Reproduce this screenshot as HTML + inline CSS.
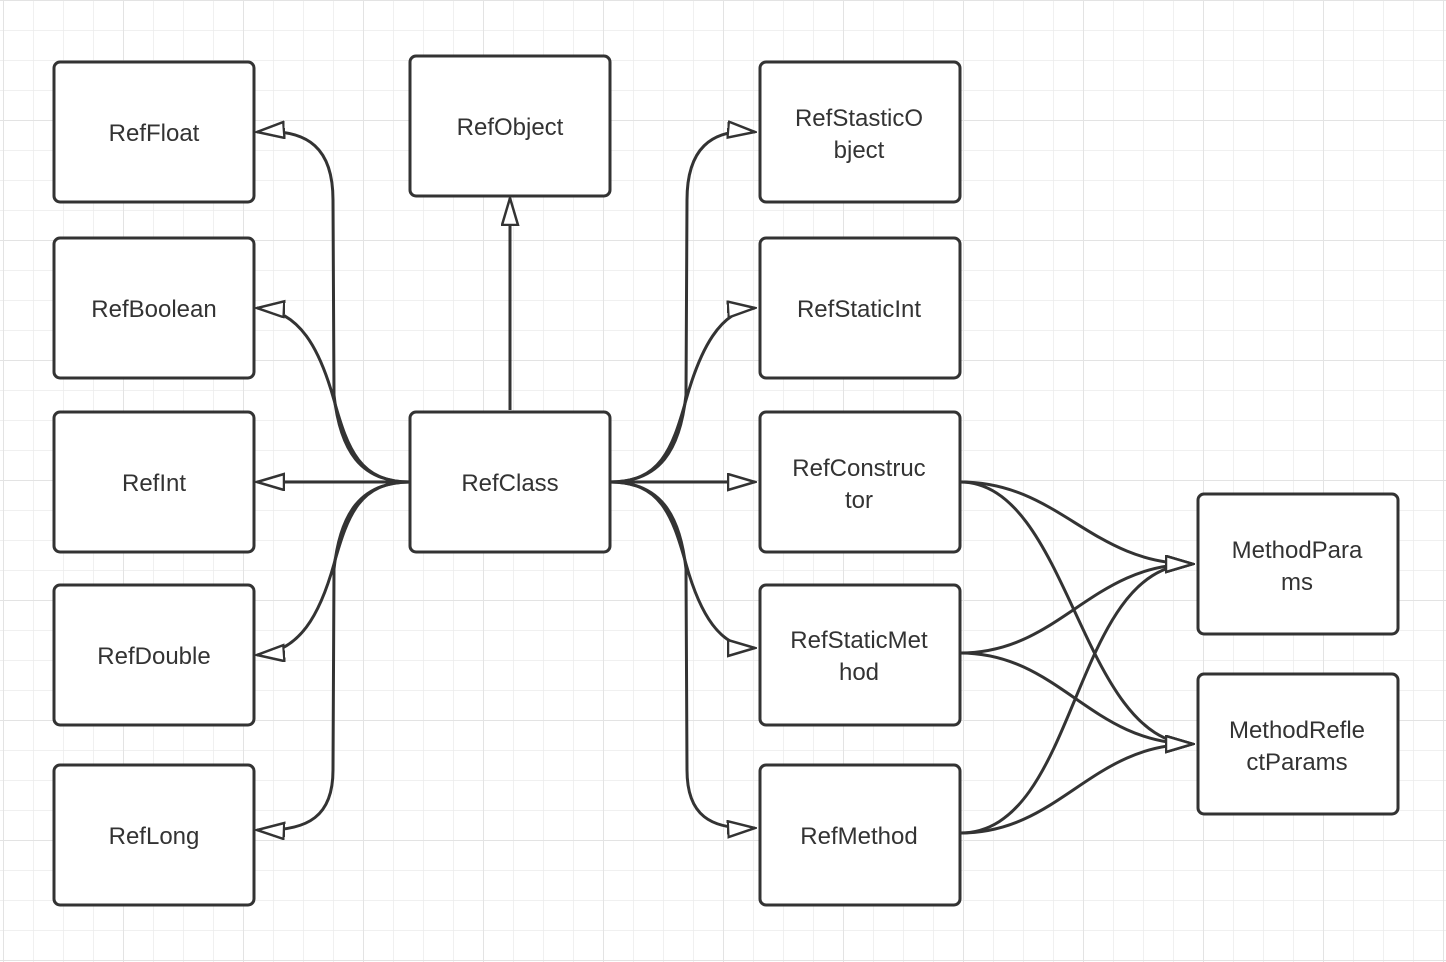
<!DOCTYPE html>
<html><head><meta charset="utf-8"><style>
html,body{margin:0;padding:0;background:#fff;}
svg{display:block;}
text{font-family:"Liberation Sans",sans-serif;font-size:24px;fill:#333;text-anchor:middle;}
</style></head><body>
<svg width="1446" height="962" viewBox="0 0 1446 962" xmlns="http://www.w3.org/2000/svg">
<defs>
<pattern id="g" x="3" y="0" width="30" height="30" patternUnits="userSpaceOnUse">
<path d="M0,0 V30 M0,0 H30" stroke="#ebebeb" stroke-width="1.5" fill="none"/>
</pattern>
<pattern id="G" x="3" y="0" width="120" height="120" patternUnits="userSpaceOnUse">
<path d="M0,0 V120 M0,0 H120" stroke="#e3e3e3" stroke-width="2" fill="none"/>
</pattern>
<marker id="a" markerWidth="30" markerHeight="20" refX="28" refY="9" orient="auto" markerUnits="userSpaceOnUse">
<path d="M1,1 L28,9 L1,17 Z" fill="#fff" stroke="#333" stroke-width="2.5"/>
</marker>
</defs>
<rect width="1446" height="962" fill="#fff"/>
<rect width="1446" height="962" fill="url(#g)"/>
<rect width="1446" height="962" fill="url(#G)"/>
<g fill="none" stroke="#333" stroke-width="3" marker-end="url(#a)">
<path d="M410,482 C360,482 340,450 334,395 L333,200 C333,150 310,128 257,132"/>
<path d="M410,482 C360,482 348,450 334,400 C320,350 300,310 257,308"/>
<path d="M410,482 L257,482"/>
<path d="M410,482 C360,482 348,514 334,564 C320,614 300,652 257,655"/>
<path d="M410,482 C360,482 340,514 334,569 L333,770 C333,815 310,832 257,830"/>
<path d="M510,410 L510,198"/>
<path d="M610,482 C660,482 680,450 686,395 L687,200 C687,150 710,128 755,132"/>
<path d="M610,482 C660,482 672,450 686,400 C700,350 720,310 755,308"/>
<path d="M610,482 L755,482"/>
<path d="M610,482 C660,482 672,514 686,564 C700,614 720,648 755,648"/>
<path d="M610,482 C660,482 680,514 686,569 L687,770 C687,815 710,830 755,828"/>
<path d="M960,482 C1060,482 1090,564 1193,564"/>
<path d="M960,482 C1070,482 1080,744 1193,744"/>
<path d="M960,653 C1060,653 1090,564 1193,564"/>
<path d="M960,653 C1060,653 1090,744 1193,744"/>
<path d="M960,833 C1080,833 1070,564 1193,564"/>
<path d="M960,833 C1060,833 1090,744 1193,744"/>
</g>
<g fill="#fff" stroke="#333" stroke-width="3">
<rect x="54" y="62" width="200" height="140" rx="6"/>
<rect x="54" y="238" width="200" height="140" rx="6"/>
<rect x="54" y="412" width="200" height="140" rx="6"/>
<rect x="54" y="585" width="200" height="140" rx="6"/>
<rect x="54" y="765" width="200" height="140" rx="6"/>
<rect x="410" y="56" width="200" height="140" rx="6"/>
<rect x="410" y="412" width="200" height="140" rx="6"/>
<rect x="760" y="62" width="200" height="140" rx="6"/>
<rect x="760" y="238" width="200" height="140" rx="6"/>
<rect x="760" y="412" width="200" height="140" rx="6"/>
<rect x="760" y="585" width="200" height="140" rx="6"/>
<rect x="760" y="765" width="200" height="140" rx="6"/>
<rect x="1198" y="494" width="200" height="140" rx="6"/>
<rect x="1198" y="674" width="200" height="140" rx="6"/>
</g>
<text x="154" y="141">RefFloat</text>
<text x="154" y="317">RefBoolean</text>
<text x="154" y="491">RefInt</text>
<text x="154" y="664">RefDouble</text>
<text x="154" y="844">RefLong</text>
<text x="510" y="135">RefObject</text>
<text x="510" y="491">RefClass</text>
<text x="859" y="126">RefStasticO</text>
<text x="859" y="158">bject</text>
<text x="859" y="317">RefStaticInt</text>
<text x="859" y="476">RefConstruc</text>
<text x="859" y="508">tor</text>
<text x="859" y="648">RefStaticMet</text>
<text x="859" y="680">hod</text>
<text x="859" y="844">RefMethod</text>
<text x="1297" y="558">MethodPara</text>
<text x="1297" y="590">ms</text>
<text x="1297" y="738">MethodRefle</text>
<text x="1297" y="770">ctParams</text>
</svg>
</body></html>
